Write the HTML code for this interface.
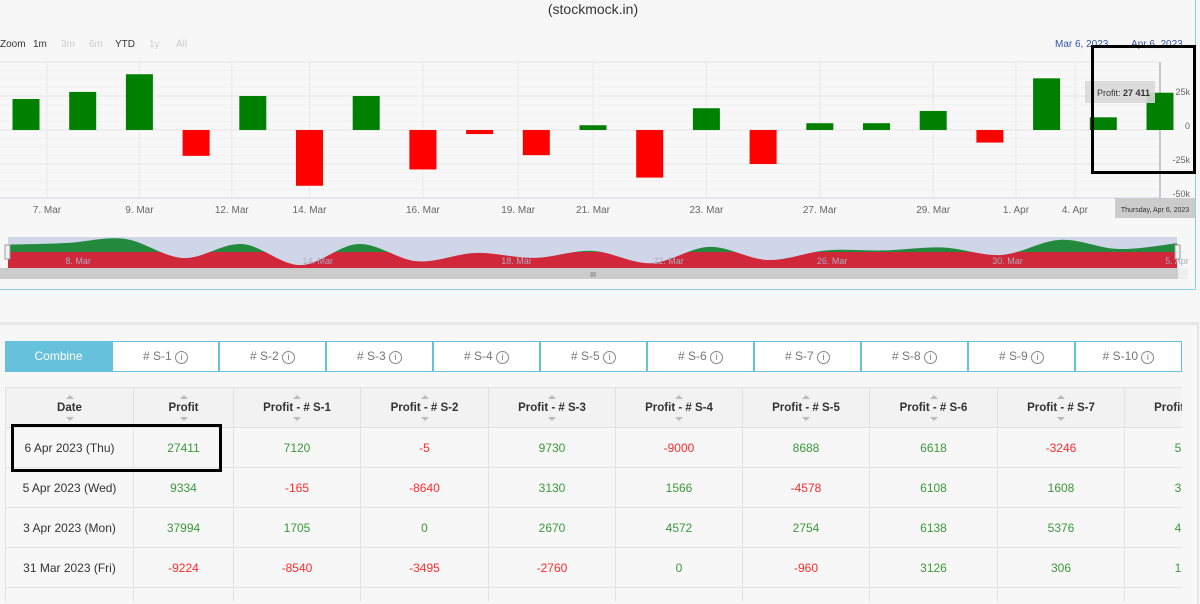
<!DOCTYPE html>
<html><head><meta charset="utf-8">
<style>
body{margin:0;width:1200px;height:601px;overflow:hidden;background:#f7f7f7;font-family:"Liberation Sans",sans-serif;position:relative}
.abs{position:absolute}
.tab{position:absolute;top:341px;height:29px;width:105px;border:1px solid #66c2dc;background:#fff;color:#777;font-size:12px;text-align:center;line-height:29px}
table{border-collapse:collapse;font-size:12px;table-layout:fixed}
td,th{border:1px solid #e2e2e2;text-align:center;height:39px;padding:0;white-space:nowrap;overflow:hidden}
th{background:#f2f2f2;color:#333;font-weight:bold;position:relative;font-size:11.5px}
.g{color:#3a9a3a}.r{color:#ff2b2b}.d{color:#333}
.ar{display:block;width:0;height:0;margin:0 auto;border-left:4px solid transparent;border-right:4px solid transparent}
</style></head><body>
<div class="abs" style="left:-2px;top:0;width:1197px;height:289px;border:1px solid #8cd0e6;border-top:none;border-left:none;background:#f7f7f7"></div>
<svg class="abs" style="left:0;top:0" width="1200" height="300" id="chart">
<text x="593" y="14" text-anchor="middle" font-size="14" fill="#333">(stockmock.in)</text>
<g font-size="10" fill="#333">
<text x="0" y="47">Zoom</text>
<text x="33" y="47">1m</text>
<text x="61" y="47" fill="#ccc">3m</text>
<text x="89" y="47" fill="#ccc">6m</text>
<text x="115" y="47">YTD</text>
<text x="149" y="47" fill="#ccc">1y</text>
<text x="176" y="47" fill="#ccc">All</text>
</g>
<text x="1055" y="47" font-size="10" fill="#3355aa">Mar 6, 2023</text>
<text x="1131" y="47" font-size="10" fill="#3355aa">Apr 6, 2023</text>
<g id="grid"></g><g id="bars"></g><g id="xl"></g><g id="yl"></g><g id="nav"></g>
<rect x="1085" y="81" width="70" height="22" fill="#d8d8d8" opacity="0.9"/>
<text x="1097" y="96" font-size="9" fill="#333">Profit: <tspan font-weight="bold">27 411</tspan></text>
<rect x="1115" y="198" width="80" height="20" fill="#ccc"/>
<text x="1155" y="212" font-size="7" fill="#333" text-anchor="middle">Thursday, Apr 6, 2023</text>
<rect x="1092.5" y="46.5" width="102" height="126" fill="none" stroke="#000" stroke-width="3"/>
</svg>
<div class="abs" style="left:0;top:322px;width:1197px;height:279px;background:#f7f7f7;border-top:3px solid #e6e6e6;border-right:2px solid #e6e6e6"></div>
<div class="tab" style="left:5px;background:#66c2dc;color:#fff;border-color:#66c2dc">Combine</div>
<div id="tabs"></div>
<div class="abs" style="left:5px;top:387px;width:1177px;overflow:hidden;height:214px">
<table style="width:1246px">
<colgroup><col style="width:128px"><col style="width:100px"><col style="width:127px"><col style="width:128px"><col style="width:127px"><col style="width:127px"><col style="width:127px"><col style="width:128px"><col style="width:127px"><col style="width:127px"></colgroup>
<thead><tr id="hr"></tr></thead><tbody id="tb"></tbody></table></div>
<div class="abs" style="left:11px;top:424px;width:205px;height:42px;border:3px solid #000"></div>
<script>
const categories=["6 Mar","7 Mar","9 Mar","10 Mar","13 Mar","14 Mar","15 Mar","16 Mar","17 Mar","20 Mar","21 Mar","22 Mar","23 Mar","24 Mar","27 Mar","28 Mar","29 Mar","31 Mar","3 Apr","5 Apr","6 Apr"];
const profit=[22800,28000,41000,-19000,25000,-41000,25000,-29000,-3000,-18500,3500,-35000,16000,-25000,5000,5000,14000,-9224,37994,9334,27411];
const tickLabels=["7. Mar","9. Mar","12. Mar","14. Mar","16. Mar","19. Mar","21. Mar","23. Mar","27. Mar","29. Mar","1. Apr","4. Apr"];
const tickIdx=[0.37,2,3.63,5,7,8.68,10,12,14,16,17.46,18.5];
const yTicks=[25000,0,-25000,-50000];
const yTickLabels=["25k","0","-25k","-50k"];
const navLabels=["8. Mar","14. Mar","18. Mar","22. Mar","26. Mar","30. Mar","5. Apr"];
const navLabelIdx=[1.2,5.3,8.7,11.3,14.1,17.1,20];
const NS="http://www.w3.org/2000/svg";
const X=i=>26+i*56.7, Y=v=>130-v*34/25000;
const NX=i=>8+i*(1169/20), NY=v=>252-v*0.32/1000;
function mk(p,t,a){const e=document.createElementNS(NS,t);for(const k in a)e.setAttribute(k,a[k]);document.getElementById(p).appendChild(e);return e;}
for(let v=50000;v>=-50000;v-=6250){mk('grid','line',{x1:0,x2:1160,y1:Y(v),y2:Y(v),stroke:v%25000===0?'#e6e6e6':'#f2f2f2','stroke-width':1});}
tickIdx.forEach(t=>mk('grid','line',{x1:X(t),x2:X(t),y1:62,y2:198,stroke:'#e8e8e8'}));
mk('grid','line',{x1:0,x2:1160,y1:198,y2:198,stroke:'#ccd6eb'});
mk('grid','line',{x1:1160,x2:1160,y1:62,y2:198,stroke:'#999'});
profit.forEach((v,i)=>{const r=mk('bars','rect',{x:X(i)-13.5,y:Math.min(Y(v),Y(0)),width:27,height:Math.max(1,Math.abs(Y(v)-Y(0))),fill:v>=0?'#008000':'#ff0000'});

});
tickLabels.forEach((l,i)=>{const t=mk('xl','text',{x:X(tickIdx[i]),y:213,'font-size':10,fill:'#666','text-anchor':'middle'});t.textContent=l;

});
yTicks.forEach((v,i)=>{const t=mk('yl','text',{x:1190,y:Y(v)-1,'font-size':9,fill:'#666','text-anchor':'end'});t.textContent=yTickLabels[i];

});
mk('nav','rect',{x:8,y:237,width:1169,height:31,fill:'#cfd6e8'});
let pts=profit.map((v,i)=>[NX(i),NY(v)]);
let d='M'+pts[0][0]+','+pts[0][1];
for(let i=0;i<pts.length-1;i++){const p0=pts[Math.max(0,i-1)],p1=pts[i],p2=pts[i+1],p3=pts[Math.min(pts.length-1,i+2)];
d+=` C${p1[0]+(p2[0]-p0[0])/6},${p1[1]+(p2[1]-p0[1])/6} ${p2[0]-(p3[0]-p1[0])/6},${p2[1]-(p3[1]-p1[1])/6} ${p2[0]},${p2[1]}`;}
const area=d+` L${NX(20)},268 L8,268 Z`;
mk('nav','clipPath',{id:'cu'});mk('cu','rect',{x:0,y:230,width:1200,height:22});
mk('nav','path',{d:area,fill:'#238a3d','clip-path':'url(#cu)'});
mk('nav','rect',{x:8,y:252,width:1169,height:16,fill:'#d0283a'});
mk('nav','clipPath',{id:'cb'});mk('cb','rect',{x:0,y:252,width:1200,height:20});
mk('nav','path',{d:d+` L${NX(20)},237 L8,237 Z`,fill:'#cfd6e8','clip-path':'url(#cb)'});
navLabels.forEach((l,i)=>{const t=mk('nav','text',{x:NX(navLabelIdx[i]),y:264,'font-size':9,fill:'#aab','text-anchor':'middle'});t.textContent=l;});
mk('nav','rect',{x:5,y:245,width:5,height:14,fill:'#f2f2f2',stroke:'#999'});
mk('nav','rect',{x:1175,y:245,width:5,height:14,fill:'#f2f2f2',stroke:'#999'});
mk('nav','rect',{x:0,y:268,width:1188,height:11,fill:'#ccc'});
mk('nav','rect',{x:1178,y:268,width:10,height:11,fill:'#eee'});
const sb=mk('nav','text',{x:593,y:277,'font-size':7,fill:'#666','text-anchor':'middle'});sb.textContent='III';
const tabNames=["# S-1","# S-2","# S-3","# S-4","# S-5","# S-6","# S-7","# S-8","# S-9","# S-10"];
tabNames.forEach((n,i)=>{const t=document.createElement('div');t.className='tab';t.style.left=(112+i*107)+'px';t.innerHTML=n+' <span style="display:inline-block;width:11px;height:11px;border:1px solid #888;border-radius:50%;font-size:9px;line-height:11px">i</span>';


document.getElementById('tabs').appendChild(t);});
const headers=["Date","Profit","Profit - # S-1","Profit - # S-2","Profit - # S-3","Profit - # S-4","Profit - # S-5","Profit - # S-6","Profit - # S-7","Profit - # S-8"];
const rows=[["6 Apr 2023 (Thu)",27411,7120,-5,9730,-9000,8688,6618,-3246,5120],
["5 Apr 2023 (Wed)",9334,-165,-8640,3130,1566,-4578,6108,1608,3200],
["3 Apr 2023 (Mon)",37994,1705,0,2670,4572,2754,6138,5376,4100],
["31 Mar 2023 (Fri)",-9224,-8540,-3495,-2760,0,-960,3126,306,1500],
["","","","","","","","","",""]];
headers.forEach(h=>{const th=document.createElement('th');th.innerHTML='<span class="ar" style="border-bottom:4px solid #bbb;margin-bottom:3px"></span>'+h+'<span class="ar" style="border-top:4px solid #bbb;margin-top:3px"></span>';


document.getElementById('hr').appendChild(th);});
rows.forEach(r=>{const tr=document.createElement('tr');r.forEach((v,j)=>{const td=document.createElement('td');td.textContent=v;td.className=j===0||v===''?'d':(v<0?'r':'g');tr.appendChild(td);});


document.getElementById('tb').appendChild(tr);});
</script>
</body></html>
